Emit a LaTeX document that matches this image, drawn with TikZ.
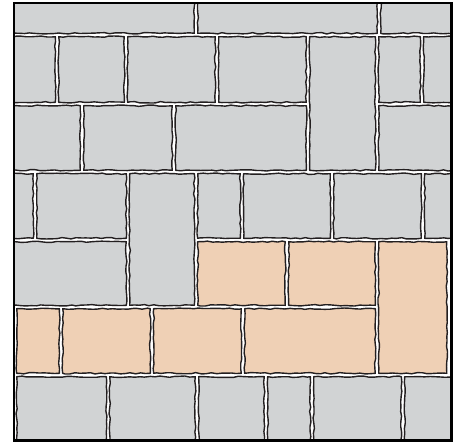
\documentclass[tikz,border=0pt]{standalone}
\usetikzlibrary{decorations.pathmorphing}
\definecolor{stonegray}{HTML}{D1D3D4}
\definecolor{stonepeach}{HTML}{EFD0B5}
\definecolor{jointdark}{HTML}{231F20}
\tikzset{
  brickstyle/.style={draw=jointdark, line width=1.4pt, line join=round,
    decorate, decoration={random steps, segment length=5pt, amplitude=0.7pt}},
  framestyle/.style={draw=black, line width=2.7pt}
}
\begin{document}
\begin{tikzpicture}[x=1pt,y=-1pt]
\pgfmathsetseed{7}
\useasboundingbox (0,0) rectangle (459,442);
\begin{scope}
\clip (14,3) rectangle (451.3,440.6);
\fill[white] (14,3) rectangle (451.3,440.6);
% gray bricks
\foreach \a/\b/\c/\d in {
  -10/-10/196/35, 196/-10/379/35, 379/-10/470/35,
  -10/35/57/104, 57/35/126/104, 126/35/217/104, 217/35/308/104, 308/35/377/172, 377/35/422/104, 422/35/470/104,
  -10/104/82/172, 82/104/174/172, 174/104/308/172, 377/104/470/172,
  -10/172/35/240, 35/172/128/240, 128/172/196/307, 196/172/242/240, 242/172/332/240, 332/172/423/240, 423/172/470/240,
  -10/240/128/307,
  15/375/108/460, 108/375/197/460, 197/375/266/460, 266/375/312/460, 312/375/403/460, 403/375/470/460}
  \path[brickstyle, fill=stonegray] (\a+1.7,\b+1.7) -- (\c-1.7,\b+1.7) -- (\c-1.7,\d-1.7) -- (\a+1.7,\d-1.7) -- cycle;
% peach bricks
\foreach \a/\b/\c/\d in {
  196/240/287/307, 287/240/377/307, 377/240/448.5/375,
  15/307/61/375, 61/307/152/375, 152/307/243/375, 243/307/377/375}
  \path[brickstyle, fill=stonepeach] (\a+1.7,\b+1.7) -- (\c-1.7,\b+1.7) -- (\c-1.7,\d-1.7) -- (\a+1.7,\d-1.7) -- cycle;
\end{scope}
\draw[framestyle] (14,3) rectangle (451.3,440.6);
\end{tikzpicture}
\end{document}
